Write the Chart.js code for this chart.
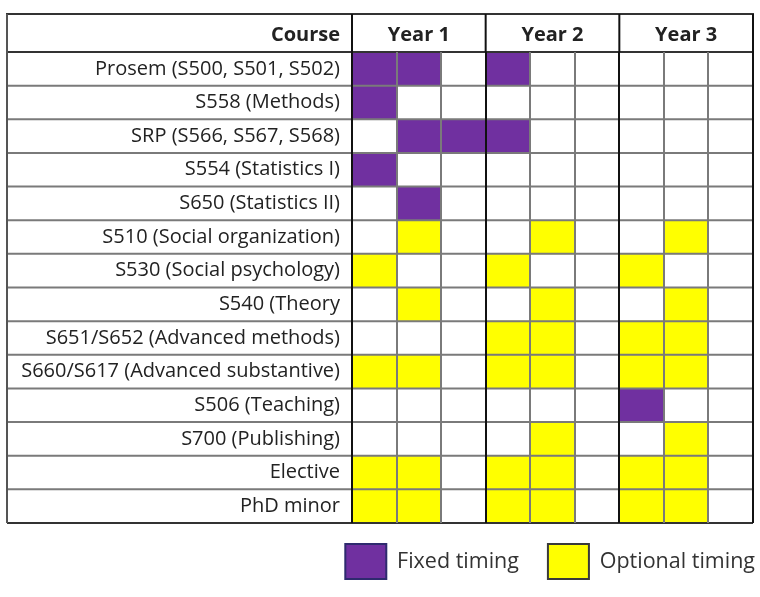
<!DOCTYPE html>
<html>
<head>
<meta charset="utf-8">
<script src="https://cdn.jsdelivr.net/npm/chart.js@4"></script>
<style>
  html, body { margin: 0; background: #fff; }
  #wrap { width: 760px; height: 597px; }
</style>
</head>
<body>
<div id="wrap"><canvas id="plan"></canvas></div>
<script>
const courses = [
  'Prosem (S500, S501, S502)',
  'S558 (Methods)',
  'SRP (S566, S567, S568)',
  'S554 (Statistics I)',
  'S650 (Statistics II)',
  'S510 (Social organization)',
  'S530 (Social psychology)',
  'S540 (Theory',
  'S651/S652 (Advanced methods)',
  'S660/S617 (Advanced substantive)',
  'S506 (Teaching)',
  'S700 (Publishing)',
  'Elective',
  'PhD minor'
];
const years = ['Year 1', 'Year 2', 'Year 3'];
const termsPerYear = 3;
// 0 = not taken, 1 = fixed timing, 2 = optional timing (one entry per term)
const timing = [
  [1, 1, 0, 1, 0, 0, 0, 0, 0],
  [1, 0, 0, 0, 0, 0, 0, 0, 0],
  [0, 1, 1, 1, 0, 0, 0, 0, 0],
  [1, 0, 0, 0, 0, 0, 0, 0, 0],
  [0, 1, 0, 0, 0, 0, 0, 0, 0],
  [0, 2, 0, 0, 2, 0, 0, 2, 0],
  [2, 0, 0, 2, 0, 0, 2, 0, 0],
  [0, 2, 0, 0, 2, 0, 0, 2, 0],
  [0, 0, 0, 2, 2, 0, 2, 2, 0],
  [2, 2, 0, 2, 2, 0, 2, 2, 0],
  [0, 0, 0, 0, 0, 0, 1, 0, 0],
  [0, 0, 0, 0, 2, 0, 0, 2, 0],
  [2, 2, 0, 2, 2, 0, 2, 2, 0],
  [2, 2, 0, 2, 2, 0, 2, 2, 0]
];
const kinds = ['Fixed timing', 'Optional timing'];
const kindColors = ['#7030a0', '#ffff00'];
const kindEdges = ['#2e2a6e', '#3a3a3a'];

const FONT = '"Open Sans", "DejaVu Sans", sans-serif';
const nTerms = years.length * termsPerYear;

// one floating bar per filled cell
function cellsOf(kind) {
  const out = [];
  timing.forEach((row, r) => row.forEach((v, c) => {
    if (v === kind) out.push({ y: courses[r], x: [c, c + 1] });
  }));
  return out;
}

function line(ctx, x1, y1, x2, y2, color, w) {
  ctx.beginPath();
  ctx.strokeStyle = color;
  ctx.lineWidth = w;
  ctx.moveTo(x1, y1);
  ctx.lineTo(x2, y2);
  ctx.stroke();
}

// row lines across the whole table, header frame and "Course" heading
const tableFrame = {
  id: 'tableFrame',
  afterLayout(chart) {
    // legend sits a bit higher and further right than the default layout puts it
    const lg = chart.legend;
    lg.top -= 8; lg.bottom -= 8;
    lg.left += 31; lg.right += 31;
  },
  afterDatasetsDraw(chart) {
    const { ctx, chartArea: a, scales } = chart;
    const x = scales.x, y = scales.y, head = scales.years;
    const left = y.left, top = head.top;
    ctx.save();
    for (let i = 0; i <= courses.length; i++) {
      const py = y.getPixelForValue(i - 0.5);
      const edge = i === 0 || i === courses.length;
      line(ctx, left, py, a.right, py, edge ? '#333' : '#7a7a7a', 2);
    }
    line(ctx, left - 1, top, a.right + 1, top, '#333', 2);
    line(ctx, left, top, left, a.bottom, '#555', 2);
    for (let k = 0; k <= years.length; k++) {
      const px = x.getPixelForValue(k * termsPerYear);
      line(ctx, px, top, px, a.top, '#111', 2);
    }
    ctx.font = 'bold 20px ' + FONT;
    ctx.fillStyle = '#222';
    ctx.textAlign = 'right';
    ctx.textBaseline = 'middle';
    ctx.fillText('Course', a.left - 12, (top + a.top) / 2 + 2);
    ctx.restore();
  }
};

new Chart(document.getElementById('plan'), {
  type: 'bar',
  data: {
    datasets: kinds.map((k, i) => ({
      label: k,
      data: cellsOf(i + 1),
      backgroundColor: kindColors[i],
      borderWidth: 0
    }))
  },
  options: {
    indexAxis: 'y',
    responsive: true,
    maintainAspectRatio: false,
    animation: false,
    layout: { padding: { left: 7, right: 7, top: 14, bottom: 0 } },
    datasets: {
      bar: { grouped: false, barPercentage: 1, categoryPercentage: 1 }
    },
    scales: {
      y: {
        type: 'category',
        labels: courses,
        offset: true,
        afterFit: (s) => { s.width = 345; },
        grid: { display: false, drawTicks: false },
        border: { display: false },
        ticks: {
          crossAlign: 'near',
          padding: 12,
          color: '#222',
          font: { family: FONT, size: 20 }
        }
      },
      x: {
        type: 'linear',
        position: 'bottom',
        min: 0,
        max: nTerms,
        afterFit: (s) => { s.height = 0; },
        border: { display: false },
        grid: {
          z: 1,
          drawTicks: false,
          color: (c) => c.tick.value % termsPerYear === 0 ? '#111' : '#7a7a7a',
          lineWidth: 2
        },
        ticks: { display: false, stepSize: 1 }
      },
      years: {
        type: 'linear',
        axis: 'x',
        position: 'top',
        min: 0,
        max: nTerms,
        afterFit: (s) => { s.height = 38; },
        afterBuildTicks: (s) => {
          s.ticks = years.map((_, i) => ({ value: i * termsPerYear + termsPerYear / 2 }));
        },
        grid: { display: false, drawTicks: false },
        border: { display: false },
        ticks: {
          autoSkip: false,
          maxRotation: 0,
          padding: 5,
          color: '#222',
          font: { family: FONT, size: 20, weight: 'bold' },
          callback: (v) => years[Math.round((v - termsPerYear / 2) / termsPerYear)]
        }
      }
    },
    plugins: {
      tooltip: { enabled: false },
      legend: {
        position: 'bottom',
        align: 'end',
        onClick: null,
        labels: {
          boxWidth: 41,
          boxHeight: 35,
          padding: 29,
          color: '#333',
          font: { family: FONT, size: 21.5 },
          generateLabels: (chart) => chart.data.datasets.map((d, i) => ({
            text: d.label,
            fillStyle: d.backgroundColor,
            strokeStyle: kindEdges[i],
            lineWidth: 2,
            fontColor: '#333',
            datasetIndex: i
          }))
        }
      }
    }
  },
  plugins: [tableFrame]
});
</script>
</body>
</html>
